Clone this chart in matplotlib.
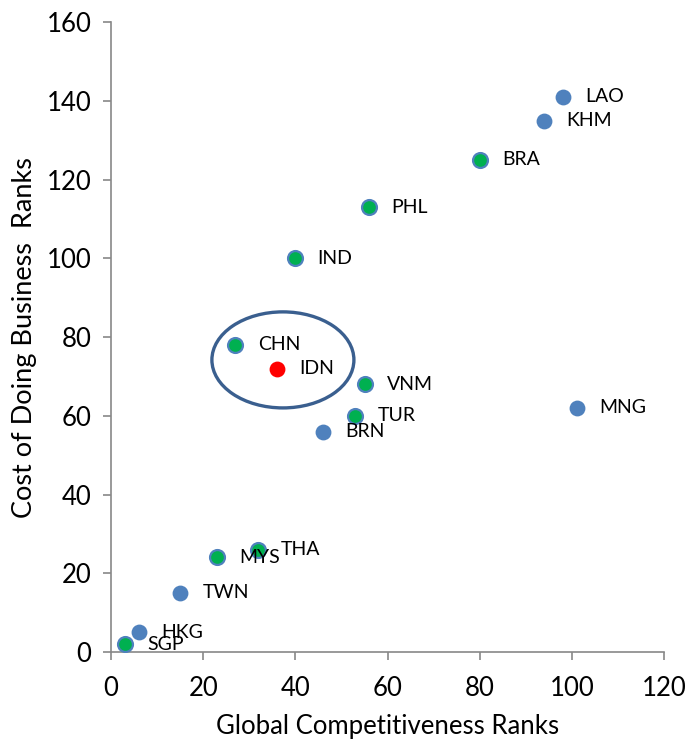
import matplotlib.pyplot as plt
from matplotlib.patches import Ellipse

plt.rcParams['font.family'] = ['Lato', 'DejaVu Sans']

# country codes, global competitiveness rank (x), cost of doing business rank (y)
paises = ['LAO', 'KHM', 'BRA', 'PHL', 'IND', 'CHN', 'IDN', 'VNM', 'TUR', 'BRN',
          'MNG', 'MYS', 'THA', 'TWN', 'HKG', 'SGP']
gci = [98, 94, 80, 56, 40, 27, 36, 55, 53, 46, 101, 23, 32, 15, 6, 3]
cdb = [141, 135, 125, 113, 100, 78, 72, 68, 60, 56, 62, 24, 26, 15, 5, 2]
# 'b' = blue, 'g' = green with blue ring, 'r' = red
grupo = ['b', 'b', 'g', 'g', 'g', 'g', 'r', 'g', 'g', 'b', 'b', 'g', 'g', 'b', 'b', 'g']

azul = '#4F81BD'
verde = '#00B050'
rojo = '#FF0000'

fig = plt.figure(figsize=(6.89, 7.40), dpi=100)
ax = fig.add_axes([0.161, 0.119, 0.803, 0.851])

for x, y, g, p in zip(gci, cdb, grupo, paises):
    if g == 'b':
        ax.scatter(x, y, s=130, color=azul, edgecolors=azul, linewidths=0, zorder=3)
    elif g == 'g':
        ax.scatter(x, y, s=115, color=verde, edgecolors=azul, linewidths=1.6, zorder=3)
    else:
        ax.scatter(x, y, s=130, color=rojo, edgecolors=rojo, linewidths=0, zorder=3)
    ax.annotate(p, (x, y), xytext=(16, 0), textcoords='offset points',
                va='center', ha='left', fontsize=14, color='black', zorder=4)

# circle highlighting CHN and IDN
elipse = Ellipse((37.3, 74.2), 30.8, 24.4, fill=False, edgecolor='#3A5F8F',
                 linewidth=2.4, zorder=2)
ax.add_patch(elipse)

ax.set_xlim(0, 120)
ax.set_ylim(0, 160)
ax.set_xticks(range(0, 121, 20))
ax.set_yticks(range(0, 161, 20))

for lado in ['top', 'right']:
    ax.spines[lado].set_visible(False)
for lado in ['left', 'bottom']:
    ax.spines[lado].set_color('#888888')
    ax.spines[lado].set_linewidth(1.2)
ax.tick_params(axis='both', colors='#888888', labelcolor='black', labelsize=18.5,
               length=6, width=1.2, direction='out')
ax.tick_params(axis='x', pad=11)
ax.tick_params(axis='y', pad=8)

ax.set_xlabel('Global Competitiveness Ranks', fontsize=18.5, labelpad=10)
ax.set_ylabel('Cost of Doing Business  Ranks', fontsize=19.5, labelpad=7)

fig.savefig('out.png', dpi=100)
